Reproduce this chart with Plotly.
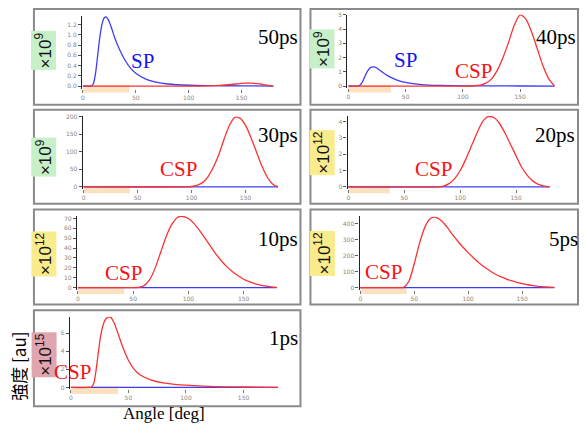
import plotly.graph_objects as go

W, H = 586, 427

# ---------------- data ----------------
sp_angle = [0, 5, 8, 10, 12, 14, 16, 18, 20, 22, 24, 26, 28, 30, 35, 40, 45, 50, 60, 70, 80, 100, 120, 150, 180]
sp_50ps = [0, 0, 0, 0.05, 0.25, 0.6, 0.95, 1.2, 1.33, 1.35, 1.3, 1.2, 1.08, 0.95, 0.7, 0.5, 0.35, 0.25, 0.13, 0.07, 0.04, 0.015, 0.008, 0.003, 0]
sp_40ps = [0, 0, 0, 0.05, 0.25, 0.6, 0.95, 1.2, 1.33, 1.35, 1.3, 1.2, 1.08, 0.95, 0.7, 0.5, 0.35, 0.25, 0.13, 0.07, 0.04, 0.015, 0.008, 0.003, 0]

flat_angle = [0, 180]
flat_zero = [0, 0]

csp_50_angle = [0, 110, 120, 130, 140, 150, 155, 160, 165, 170, 175, 180]
csp_50ps = [0, 0, 0.003, 0.012, 0.03, 0.052, 0.058, 0.055, 0.045, 0.03, 0.012, 0]

csp_40_angle = [0, 100, 110, 115, 120, 125, 130, 135, 140, 145, 150, 155, 160, 165, 170, 175, 180]
csp_40ps = [0, 0, 0.02, 0.06, 0.2, 0.5, 1.1, 2.0, 3.1, 4.3, 5.0, 4.7, 3.8, 2.6, 1.4, 0.5, 0]

csp_30_angle = [0, 95, 100, 105, 110, 115, 120, 125, 130, 135, 140, 145, 150, 155, 160, 165, 170, 175, 180]
csp_30ps = [0, 0, 1, 4, 12, 28, 55, 90, 135, 175, 198, 195, 175, 140, 100, 60, 28, 8, 0]

csp_20_angle = [0, 80, 85, 90, 95, 100, 105, 110, 115, 120, 125, 130, 135, 140, 145, 150, 155, 160, 165, 170, 175, 180]
csp_20ps = [0, 0, 0.05, 0.2, 0.5, 1.0, 1.7, 2.5, 3.3, 4.0, 4.3, 4.25, 3.9, 3.3, 2.6, 1.9, 1.2, 0.7, 0.35, 0.15, 0.05, 0]

csp_10_angle = [0, 50, 55, 60, 65, 70, 75, 80, 85, 90, 95, 100, 105, 110, 115, 120, 125, 130, 135, 140, 145, 150, 155, 160, 165, 170, 175, 180]
csp_10ps = [0, 0, 0.2, 2, 8, 20, 36, 52, 64, 71, 72, 70, 65, 58, 50, 42, 34, 27, 21, 16, 12, 8.5, 6, 4, 2.5, 1.5, 0.8, 0.3]

csp_5_angle = [0, 35, 40, 45, 50, 55, 60, 65, 70, 75, 80, 85, 90, 95, 100, 105, 110, 115, 120, 125, 130, 135, 140, 145, 150, 155, 160, 165, 170, 175, 180]
csp_5ps = [0, 0, 2, 40, 150, 280, 380, 430, 438, 418, 380, 335, 292, 253, 218, 185, 155, 128, 105, 85, 68, 55, 43, 33, 25, 18, 12, 8, 5, 3, 2]

csp_1_angle = [0, 15, 18, 20, 22, 24, 26, 28, 30, 33, 35, 38, 40, 45, 50, 55, 60, 70, 80, 90, 100, 120, 150, 180]
csp_1ps = [0, 0, 0.05, 0.5, 2, 4, 5.8, 6.9, 7.5, 7.8, 7.7, 7.0, 6.3, 4.5, 3.0, 2.0, 1.4, 0.8, 0.5, 0.35, 0.25, 0.12, 0.05, 0]

time_labels = ["50ps", "40ps", "30ps", "20ps", "10ps", "5ps", "1ps"]
scale_labels = ["×10<sup>9</sup>", "×10<sup>9</sup>", "×10<sup>9</sup>", "×10<sup>12</sup>",
                "×10<sup>12</sup>", "×10<sup>12</sup>", "×10<sup>15</sup>"]
highlight_end = [44, 37, 43, 37, 42, 43, 41]
x_ticks = [0, 50, 100, 150]

# ---------------- layout helpers ----------------
RED = "rgb(250,50,50)"
BLUE = "rgb(60,60,245)"
GREEN_BG = "rgb(200,240,200)"
YELLOW_BG = "rgb(250,235,140)"
PINK_BG = "rgb(225,165,175)"

panels = [
    dict(x0=82, sx=1.06, y0=83, sy=51.7, yr=[-0.05, 1.37], yt=[0, 0.2, 0.4, 0.6, 0.8, 1.0, 1.2], fmt=".1f",
         box=(33, 5, 300, 102), sp=(sp_angle, sp_50ps), csp=(csp_50_angle, csp_50ps),
         splab=(142, 58), csplab=None, tpos=(277, 33), spos=(43, 47), bg=GREEN_BG),
    dict(x0=348, sx=1.147, y0=83, sy=14.4, yr=[-0.15, 5.02], yt=[0, 1, 2, 3, 4, 5], fmt="d",
         box=(310, 5, 578, 102), sp=(sp_angle, sp_40ps), csp=(csp_40_angle, csp_40ps),
         splab=(405, 57), csplab=(473, 68), tpos=(556, 33), spos=(322, 45), bg=GREEN_BG),
    dict(x0=82.7, sx=1.082, y0=185, sy=0.355, yr=[-6, 201], yt=[0, 50, 100, 150, 200], fmt="d",
         box=(33, 107, 300, 202), sp=(flat_angle, flat_zero), csp=(csp_30_angle, csp_30ps),
         splab=None, csplab=(178, 167), tpos=(277, 133), spos=(43, 155), bg=GREEN_BG),
    dict(x0=348, sx=1.12, y0=185, sy=16.5, yr=[-0.12, 4.36], yt=[0, 1, 2, 3, 4], fmt="d",
         box=(310, 107, 578, 202), sp=(flat_angle, flat_zero), csp=(csp_20_angle, csp_20ps),
         splab=None, csplab=(433, 167), tpos=(555, 133), spos=(322, 150), bg=YELLOW_BG),
    dict(x0=77, sx=1.107, y0=287, sy=1.0, yr=[-2, 72.5], yt=[0, 10, 20, 30, 40, 50, 60, 70], fmt="d",
         box=(33, 208, 300, 304), sp=(flat_angle, flat_zero), csp=(csp_10_angle, csp_10ps),
         splab=None, csplab=(123, 272), tpos=(277, 238), spos=(43, 253), bg=YELLOW_BG),
    dict(x0=360, sx=1.08, y0=287, sy=0.1625, yr=[-12, 443], yt=[0, 100, 200, 300, 400], fmt="d",
         box=(310, 208, 578, 304), sp=(flat_angle, flat_zero), csp=(csp_5_angle, csp_5ps),
         splab=None, csplab=(383, 271), tpos=(563, 238), spos=(322, 252), bg=YELLOW_BG),
    dict(x0=70, sx=1.153, y0=388, sy=9.17, yr=[-0.2, 7.8], yt=[0, 2, 4, 6], fmt="d",
         box=(33, 310, 300, 407), sp=(flat_angle, flat_zero), csp=(csp_1_angle, csp_1ps),
         splab=None, csplab=(72, 372), tpos=(283, 338), spos=(43, 355), bg=PINK_BG),
]

XR = [-0.8, 181]

fig = go.Figure()
layout = dict(width=W, height=H, margin=dict(l=0, r=0, t=0, b=0, pad=0),
              paper_bgcolor="white", plot_bgcolor="rgba(0,0,0,0)", showlegend=False)
shapes = []
annotations = []


def pxx(p):
    return p / W


def pxy(p):
    return 1 - p / H


def label(text, x, y, size, color, family, angle=0, bg=None):
    d = dict(text=text, x=pxx(x), y=pxy(y), xref="paper", yref="paper", showarrow=False,
             xanchor="center", yanchor="middle", textangle=angle,
             font=dict(family=family, size=size, color=color))
    if bg:
        d["bgcolor"] = bg
        d["borderpad"] = 1
    annotations.append(d)


for i, p in enumerate(panels):
    n = "" if i == 0 else str(i + 1)
    xa, ya = "x" + n, "y" + n
    xdom = [pxx(p["x0"] + XR[0] * p["sx"]), pxx(p["x0"] + XR[1] * p["sx"])]
    ydom = [pxy(p["y0"] - p["yr"][0] * p["sy"]), pxy(p["y0"] - p["yr"][1] * p["sy"])]
    layout["xaxis" + n] = dict(domain=xdom, range=XR, anchor=ya, showgrid=False, zeroline=False,
                               showline=False, ticks="outside", ticklen=3, tickwidth=1,
                               tickcolor="#777", tickvals=x_ticks,
                               tickfont=dict(family="DejaVu Sans", size=6, color="#888"),
                               fixedrange=True)
    layout["yaxis" + n] = dict(domain=ydom, range=p["yr"], anchor=xa, showgrid=False, zeroline=False,
                               showline=True, linecolor="#222", linewidth=1.2, ticks="outside",
                               ticklen=3, tickwidth=1, tickcolor="#555", tickvals=p["yt"],
                               tickformat=p["fmt"],
                               tickfont=dict(family="DejaVu Sans", size=6, color="#888"),
                               fixedrange=True)
    shapes.append(dict(type="rect", xref=xa, yref="paper", x0=0, x1=highlight_end[i],
                       y0=pxy(p["y0"] + 6.5), y1=pxy(p["y0"] - 1), line=dict(width=0),
                       fillcolor="rgba(247,200,140,0.55)", layer="below"))
    l, t, r, b = p["box"]
    shapes.append(dict(type="rect", xref="paper", yref="paper", x0=pxx(l), x1=pxx(r),
                       y0=pxy(b), y1=pxy(t), line=dict(color="#8a8a8a", width=2),
                       fillcolor="rgba(0,0,0,0)"))
    fig.add_trace(go.Scatter(x=p["sp"][0], y=p["sp"][1], mode="lines", xaxis=xa, yaxis=ya,
                             line=dict(color=BLUE, width=1.3, shape="spline", smoothing=0.7),
                             hoverinfo="skip"))
    fig.add_trace(go.Scatter(x=p["csp"][0], y=p["csp"][1], mode="lines", xaxis=xa, yaxis=ya,
                             line=dict(color=RED, width=1.3, shape="spline", smoothing=0.7),
                             hoverinfo="skip"))
    label(time_labels[i], p["tpos"][0], p["tpos"][1], 21, "black", "Liberation Serif")
    label(scale_labels[i], p["spos"][0], p["spos"][1], 17, "#111", "Liberation Sans", angle=-90, bg=p["bg"])
    if p["splab"]:
        label("SP", p["splab"][0], p["splab"][1], 21, "rgb(20,20,240)", "Liberation Serif")
    if p["csplab"]:
        label("CSP", p["csplab"][0], p["csplab"][1], 21, "rgb(245,20,20)", "Liberation Serif")

label("Angle [deg]", 163, 414, 17, "black", "Liberation Serif")
label("強度 [au]", 18, 366, 17, "black", "Noto Sans CJK JP", angle=-90)

layout["shapes"] = shapes
layout["annotations"] = annotations
fig.update_layout(**layout)
fig.write_html("out.html")
